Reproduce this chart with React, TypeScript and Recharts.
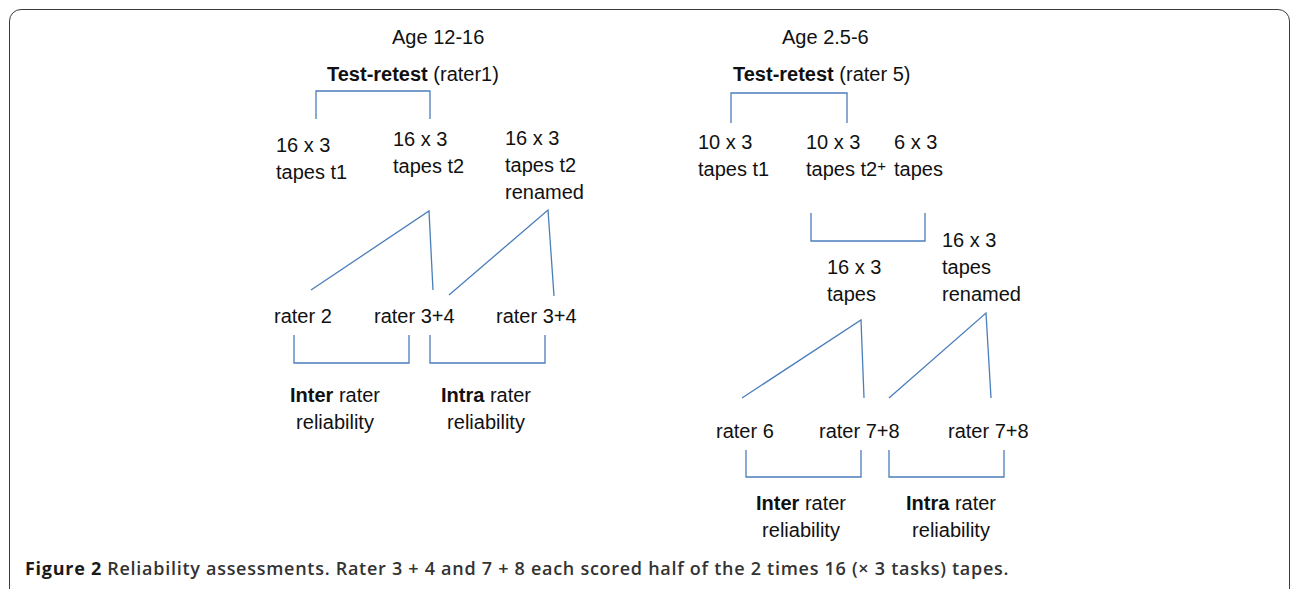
import React from 'react';
import { ScatterChart, Scatter, XAxis, YAxis } from 'recharts';

// diagram space = page pixels (1292 x 589)
const W = 1292;
const H = 589;
const LINE_H = 27;
const BLUE = '#4a7ebb';

// text nodes, left aligned: x = left edge, y = baseline of first line
// **bold**, ^ = superscript char
const leftLabels = [
  { x: 392, y: 44, lines: ['Age 12-16'] },
  { x: 327, y: 81, lines: ['**Test-retest** (rater1)'] },
  { x: 276, y: 152, lines: ['16 x 3', 'tapes t1'] },
  { x: 393, y: 146, lines: ['16 x 3', 'tapes t2'] },
  { x: 505, y: 145, lines: ['16 x 3', 'tapes t2', 'renamed'] },
  { x: 274, y: 323, lines: ['rater 2'] },
  { x: 374, y: 323, lines: ['rater 3+4'] },
  { x: 496, y: 323, lines: ['rater 3+4'] },
  { x: 782, y: 44, lines: ['Age 2.5-6'] },
  { x: 733, y: 81, lines: ['**Test-retest** (rater 5)'] },
  { x: 698, y: 149, lines: ['10 x 3', 'tapes t1'] },
  { x: 806, y: 149, lines: ['10 x 3', 'tapes t2^+'] },
  { x: 894, y: 149, lines: ['6 x 3', 'tapes'] },
  { x: 827, y: 274, lines: ['16 x 3', 'tapes'] },
  { x: 942, y: 247, lines: ['16 x 3', 'tapes', 'renamed'] },
  { x: 716, y: 438, lines: ['rater 6'] },
  { x: 819, y: 438, lines: ['rater 7+8'] },
  { x: 948, y: 438, lines: ['rater 7+8'] },
];

// text nodes, centred on x
const centerLabels = [
  { x: 335, y: 402, lines: ['**Inter** rater', 'reliability'] },
  { x: 486, y: 402, lines: ['**Intra** rater', 'reliability'] },
  { x: 801, y: 510, lines: ['**Inter** rater', 'reliability'] },
  { x: 951, y: 510, lines: ['**Intra** rater', 'reliability'] },
];

// connector polylines
const connectors = [
  [{ x: 316, y: 119 }, { x: 316, y: 91 }, { x: 430, y: 91 }, { x: 430, y: 119 }],
  [{ x: 311, y: 290 }, { x: 429, y: 211 }, { x: 433, y: 290 }],
  [{ x: 449, y: 295 }, { x: 548, y: 210 }, { x: 554, y: 296 }],
  [{ x: 294, y: 335 }, { x: 294, y: 363 }, { x: 409, y: 363 }, { x: 409, y: 335 }],
  [{ x: 430, y: 335 }, { x: 430, y: 363 }, { x: 545, y: 363 }, { x: 545, y: 335 }],
  [{ x: 731, y: 123 }, { x: 731, y: 93 }, { x: 847, y: 93 }, { x: 847, y: 123 }],
  [{ x: 811, y: 213 }, { x: 811, y: 241 }, { x: 925, y: 241 }, { x: 925, y: 213 }],
  [{ x: 742, y: 398 }, { x: 861, y: 320 }, { x: 864, y: 398 }],
  [{ x: 889, y: 398 }, { x: 986, y: 313 }, { x: 991, y: 398 }],
  [{ x: 746, y: 450 }, { x: 746, y: 477 }, { x: 861, y: 477 }, { x: 861, y: 450 }],
  [{ x: 889, y: 450 }, { x: 889, y: 477 }, { x: 1004, y: 477 }, { x: 1004, y: 450 }],
];

const captionBold = 'Figure 2';
const captionText =
  ' Reliability assessments. Rater 3 + 4 and 7 + 8 each scored half of the 2 times 16 (\u00d7 3 tasks) tapes.';

const splitLine = (line: string) =>
  line
    .split(/(\*\*[^*]+\*\*|\^.)/)
    .filter(Boolean)
    .map((s) => {
      if (s.startsWith('**')) return { text: s.slice(2, -2), bold: true, sup: false };
      if (s.startsWith('^')) return { text: s.slice(1), bold: false, sup: true };
      return { text: s, bold: false, sup: false };
    });

const makeLabel = (anchor: 'start' | 'middle') => (props: any) => {
  const { cx, cy, payload } = props;
  if (cx == null || cy == null) return <g />;
  return (
    <text
      x={cx}
      y={cy}
      textAnchor={anchor}
      fontFamily="'Liberation Sans', Arial, sans-serif"
      fontSize={20}
      fill="#111"
      style={{ whiteSpace: 'pre' }}
    >
      {payload.lines.map((ln: string, i: number) =>
        splitLine(ln).map((seg, j) => (
          <tspan
            key={`${i}-${j}`}
            x={j === 0 ? cx : undefined}
            dy={j === 0 && i > 0 ? LINE_H : seg.sup ? -5 : undefined}
            fontWeight={seg.bold ? 700 : 400}
            fontSize={seg.sup ? 15 : undefined}
          >
            {seg.text}
          </tspan>
        ))
      )}
    </text>
  );
};

const noDot = () => <g />;

const App: React.FC = () => {
  return (
    <div
      style={{
        position: 'fixed',
        left: 0,
        top: 0,
        width: W,
        height: H,
        overflow: 'hidden',
        background: '#fff',
      }}
    >
      <div
        style={{
          position: 'absolute',
          left: 9,
          top: 9,
          width: 1281,
          height: 600,
          border: '1.5px solid #3c3c3c',
          borderRadius: 12,
          boxSizing: 'border-box',
        }}
      />
      <div style={{ position: 'absolute', left: 0, top: 0 }}>
        <ScatterChart width={W} height={H} margin={{ top: 0, right: 0, bottom: 0, left: 0 }}>
          <XAxis type="number" dataKey="x" domain={[0, W]} allowDataOverflow hide />
          <YAxis type="number" dataKey="y" domain={[0, H]} allowDataOverflow reversed hide />
          {connectors.map((pts, i) => (
            <Scatter
              key={`c${i}`}
              data={pts}
              line={{ stroke: BLUE, strokeWidth: 1.3 }}
              shape={noDot}
              isAnimationActive={false}
            />
          ))}
          <Scatter data={leftLabels} shape={makeLabel('start')} isAnimationActive={false} />
          <Scatter data={centerLabels} shape={makeLabel('middle')} isAnimationActive={false} />
        </ScatterChart>
      </div>
      <div
        style={{
          position: 'absolute',
          left: 25,
          top: 559,
          fontFamily: "'Open Sans', sans-serif",
          fontSize: 18,
          lineHeight: '18px',
          letterSpacing: 0.72,
          fontWeight: 600,
          color: '#333',
          whiteSpace: 'pre',
        }}
      >
        <span style={{ fontWeight: 700, color: '#1a1a1a' }}>{captionBold}</span>
        {captionText}
      </div>
    </div>
  );
};

export default App;
